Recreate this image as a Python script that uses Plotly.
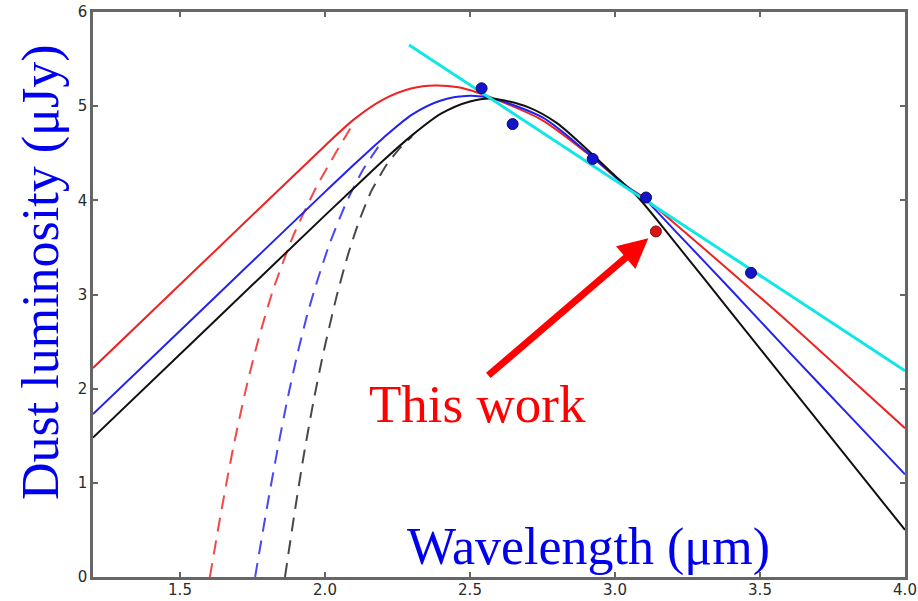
import plotly.graph_objects as go

# ---------------- data ----------------
red_x = [1.2, 1.6, 2.0, 2.1, 2.2, 2.3, 2.38, 2.46, 2.53, 2.6, 2.75, 2.9, 3.04, 3.1, 3.2, 3.4, 3.6, 3.8, 4.0]
red_y = [2.22, 3.40, 4.58, 4.86, 5.07, 5.19, 5.22, 5.20, 5.14, 5.06, 4.85, 4.51, 4.15, 4.03, 3.77, 3.24, 2.70, 2.14, 1.58]

blue_x = [1.2, 1.6, 2.0, 2.1, 2.2, 2.3, 2.4, 2.5, 2.58, 2.75, 2.9, 3.04, 3.1, 3.2, 3.4, 3.6, 3.8, 4.0]
blue_y = [1.73, 2.91, 4.09, 4.38, 4.66, 4.91, 5.06, 5.11, 5.08, 4.88, 4.52, 4.15, 4.02, 3.70, 3.05, 2.39, 1.74, 1.09]

black_x = [1.2, 1.6, 2.0, 2.1, 2.2, 2.3, 2.4, 2.5, 2.58, 2.7, 2.8, 2.9, 3.0, 3.08, 3.2, 3.4, 3.6, 3.8, 4.0]
black_y = [1.48, 2.66, 3.84, 4.13, 4.42, 4.69, 4.92, 5.05, 5.08, 4.99, 4.82, 4.55, 4.26, 4.03, 3.58, 2.81, 2.04, 1.27, 0.50]

red_dash_x = [1.603, 1.64, 1.684, 1.73, 1.77, 1.82, 1.89, 1.97, 2.04, 2.1]
red_dash_y = [0.0, 0.66, 1.38, 2.03, 2.52, 3.04, 3.62, 4.14, 4.52, 4.83]

blue_dash_x = [1.759, 1.80, 1.833, 1.87, 1.902, 1.94, 1.977, 2.017, 2.074, 2.132, 2.2]
blue_dash_y = [0.0, 0.74, 1.30, 1.88, 2.33, 2.80, 3.18, 3.55, 3.98, 4.33, 4.64]

black_dash_x = [1.862, 1.895, 1.925, 1.96, 1.993, 2.04, 2.08, 2.12, 2.16, 2.213, 2.26, 2.30]
black_dash_y = [0.0, 0.68, 1.26, 1.86, 2.36, 2.98, 3.43, 3.80, 4.10, 4.38, 4.56, 4.68]

cyan_x = [2.29, 4.0]
cyan_y = [5.65, 2.19]

obs_x = [2.540, 2.647, 2.923, 3.107, 3.469]
obs_y = [5.19, 4.81, 4.44, 4.03, 3.23]

this_x = [3.141]
this_y = [3.67]

x_ticks = [1.5, 2.0, 2.5, 3.0, 3.5, 4.0]
x_tick_text = ["1.5", "2.0", "2.5", "3.0", "3.5", "4.0"]
y_ticks = [0, 1, 2, 3, 4, 5, 6]
y_tick_text = ["0", "1", "2", "3", "4", "5", "6"]

x_title = "Wavelength (μm)"
y_title = "Dust luminosity (μJy)"
note_text = "This work"

# ---------------- figure ----------------
W, H = 918, 601
L, R, T, B = 93, 13, 12, 24
pw, ph = W - L - R, H - T - B

def px2paper(px, py):
    return (px - L) / pw, (H - B - py) / ph

fig = go.Figure()

dash_pat = "14px,9px"
for xs, ys, col in [(red_dash_x, red_dash_y, "rgba(240,40,40,0.85)"),
                    (blue_dash_x, blue_dash_y, "rgba(40,40,240,0.85)"),
                    (black_dash_x, black_dash_y, "rgba(40,40,40,0.85)")]:
    fig.add_trace(go.Scatter(x=xs, y=ys, mode="lines",
                             line=dict(color=col, width=2, dash=dash_pat, shape="spline", smoothing=0.6),
                             showlegend=False, hoverinfo="skip"))

for xs, ys, col in [(red_x, red_y, "#ee2222"),
                    (blue_x, blue_y, "#2222ee"),
                    (black_x, black_y, "#111111")]:
    fig.add_trace(go.Scatter(x=xs, y=ys, mode="lines",
                             line=dict(color=col, width=2, shape="spline", smoothing=0.8),
                             showlegend=False, hoverinfo="skip"))

fig.add_trace(go.Scatter(x=cyan_x, y=cyan_y, mode="lines",
                         line=dict(color="#11e6e6", width=3),
                         showlegend=False, hoverinfo="skip"))

fig.add_trace(go.Scatter(x=obs_x, y=obs_y, mode="markers",
                         marker=dict(size=11, color="#1414cc", line=dict(color="#0a0a66", width=1)),
                         showlegend=False, hoverinfo="skip"))
fig.add_trace(go.Scatter(x=this_x, y=this_y, mode="markers",
                         marker=dict(size=11, color="#dd1111", line=dict(color="#771111", width=1)),
                         showlegend=False, hoverinfo="skip"))

# arrow pointing at "this work" point
fig.add_annotation(x=3.115, y=3.597, ax=2.558, ay=2.127, xref="x", yref="y",
                   axref="x", ayref="y", text="", showarrow=True,
                   arrowhead=2, arrowwidth=7, arrowsize=0.85, arrowcolor="#ff0000",
                   standoff=0, startstandoff=0)

serif = "Liberation Serif, Times New Roman, serif"
fig.add_annotation(x=2.526, y=1.84, xref="x", yref="y", text=note_text, showarrow=False,
                   font=dict(family=serif, size=53, color="#ff0000"),
                   xanchor="center", yanchor="middle")

xp, yp = px2paper(588, 547)
fig.add_annotation(x=xp, y=yp, xref="paper", yref="paper", text=x_title, showarrow=False,
                   font=dict(family=serif, size=52, color="#0000ee"),
                   xanchor="center", yanchor="middle")

xp, yp = px2paper(41, 273)
fig.add_annotation(x=xp, y=yp, xref="paper", yref="paper", text=y_title, showarrow=False,
                   textangle=-90,
                   font=dict(family=serif, size=52, color="#0000ee"),
                   xanchor="center", yanchor="middle")

axis_common = dict(showline=True, linecolor="#666666", linewidth=2.5, mirror="allticks",
                   ticks="inside", ticklen=5, tickwidth=1.5, tickcolor="#666666",
                   showgrid=False, zeroline=False, automargin=False,
                   ticklabeloverflow="allow",
                   tickfont=dict(family="DejaVu Sans, sans-serif", size=15, color="#2a2a2a"))

fig.update_xaxes(range=[1.2, 4.0], tickvals=x_ticks, ticktext=x_tick_text,
                 ticklabelstandoff=-3, **axis_common)
fig.update_yaxes(range=[0, 6], tickvals=y_ticks, ticktext=y_tick_text, **axis_common)

fig.update_layout(width=W, height=H, margin=dict(l=L, r=R, t=T, b=B, autoexpand=False),
                  paper_bgcolor="white", plot_bgcolor="white", showlegend=False)

# remove the browser's default 8px body margin so the figure fills the window exactly
fig.write_html("out.html", config={"displayModeBar": False},
               post_script="document.body.style.margin='0px';document.body.style.overflow='hidden';")
